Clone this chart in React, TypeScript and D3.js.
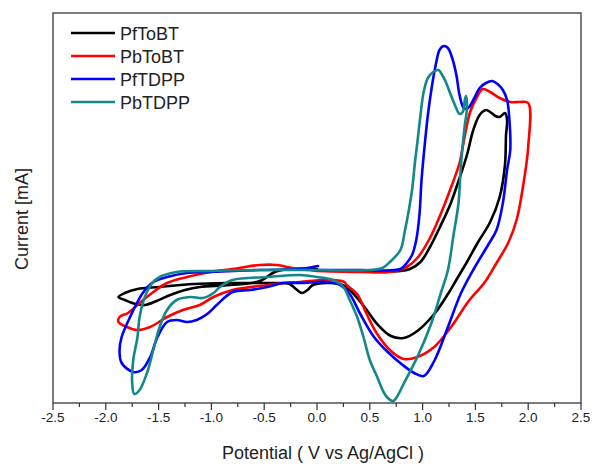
import React from "react";
import * as d3 from "d3";

const seriesNames = ["PfToBT", "PbToBT", "PfTDPP", "PbTDPP"];
const seriesColors = ["#000000", "#ff0000", "#0000ff", "#13878a"];

// [potential (V), current (mA)]
const pfToBT: [number, number][] = [
  [0, 0], [0.41, -0.01], [0.79, -0.01], [0.88, 0.01], [0.98, 0.08], [1.07, 0.23],
  [1.16, 0.42], [1.26, 0.65], [1.35, 0.92], [1.42, 1.15], [1.48, 1.4], [1.54, 1.55],
  [1.6, 1.6], [1.64, 1.58], [1.69, 1.54], [1.73, 1.53], [1.78, 1.57], [1.8, 1.5],
  [1.79, 1.35], [1.78, 1.05], [1.73, 0.73], [1.64, 0.48], [1.52, 0.27], [1.42, 0.08],
  [1.33, -0.08], [1.24, -0.24], [1.11, -0.44], [0.95, -0.61], [0.82, -0.68], [0.7, -0.66],
  [0.57, -0.54], [0.45, -0.37], [0.31, -0.2], [0.22, -0.14], [0.09, -0.13], [-0.04, -0.15],
  [-0.09, -0.2], [-0.14, -0.23], [-0.2, -0.19], [-0.26, -0.14], [-0.4, -0.13], [-0.54, -0.13],
  [-0.85, -0.13], [-1.17, -0.14], [-1.49, -0.17], [-1.7, -0.19], [-1.82, -0.23], [-1.88, -0.27],
  [-1.82, -0.3], [-1.72, -0.34], [-1.63, -0.35], [-1.52, -0.31], [-1.39, -0.25], [-1.25, -0.2],
  [-1.11, -0.17], [-0.82, -0.15], [-0.54, -0.11], [-0.4, -0.02], [-0.26, 0.01], [0, 0.01],
];

const pbToBT: [number, number][] = [
  [0, -0.01], [0.41, -0.02], [0.69, -0.02], [0.85, 0.03], [0.95, 0.12], [1.07, 0.32],
  [1.16, 0.53], [1.26, 0.8], [1.35, 1.07], [1.38, 1.23], [1.42, 1.45], [1.45, 1.58],
  [1.52, 1.74], [1.57, 1.81], [1.64, 1.78], [1.73, 1.72], [1.83, 1.68], [1.92, 1.68],
  [2.0, 1.67], [2.0, 1.23], [1.95, 0.83], [1.89, 0.5], [1.81, 0.27], [1.7, 0.07],
  [1.59, -0.12], [1.43, -0.32], [1.27, -0.57], [1.11, -0.77], [0.95, -0.87], [0.82, -0.89],
  [0.7, -0.81], [0.57, -0.64], [0.47, -0.44], [0.38, -0.24], [0.28, -0.15], [0.26, -0.12],
  [0.15, -0.1], [0.03, -0.1], [-0.16, -0.12], [-0.32, -0.13], [-0.47, -0.15], [-0.8, -0.2],
  [-0.98, -0.27], [-1.11, -0.35], [-1.27, -0.4], [-1.42, -0.47], [-1.58, -0.57], [-1.7, -0.6],
  [-1.8, -0.57], [-1.88, -0.52], [-1.87, -0.47], [-1.79, -0.43], [-1.68, -0.33], [-1.55, -0.22],
  [-1.42, -0.13], [-1.23, -0.07], [-1.01, -0.02], [-0.8, 0.01], [-0.54, 0.05], [-0.38, 0.05],
  [-0.23, 0.02], [-0.07, 0], [0, -0.01],
];

const pfTDPP: [number, number][] = [
  [0, 0], [0.41, 0], [0.79, 0.01], [0.85, 0.07], [0.9, 0.15], [0.94, 0.3],
  [0.97, 0.55], [0.99, 0.9], [1.02, 1.25], [1.05, 1.55], [1.09, 1.85], [1.13, 2.08],
  [1.16, 2.2], [1.2, 2.24], [1.24, 2.22], [1.28, 2.12], [1.32, 1.95], [1.35, 1.75],
  [1.39, 1.62], [1.43, 1.62], [1.49, 1.72], [1.54, 1.82], [1.6, 1.87], [1.66, 1.89],
  [1.71, 1.86], [1.76, 1.8], [1.8, 1.7], [1.82, 1.53], [1.83, 1.2], [1.8, 1.0],
  [1.76, 0.67], [1.7, 0.4], [1.62, 0.25], [1.49, 0.02], [1.36, -0.24], [1.24, -0.57],
  [1.11, -0.91], [1.01, -1.06], [0.92, -1.03], [0.8, -0.94], [0.66, -0.81], [0.54, -0.67],
  [0.41, -0.44], [0.31, -0.24], [0.22, -0.15], [0.09, -0.12], [-0.16, -0.13], [-0.32, -0.13],
  [-0.47, -0.17], [-0.63, -0.2], [-0.8, -0.22], [-0.95, -0.35], [-1.04, -0.44], [-1.14, -0.5],
  [-1.23, -0.52], [-1.33, -0.5], [-1.42, -0.52], [-1.51, -0.67], [-1.58, -0.87], [-1.66, -1.0],
  [-1.74, -1.02], [-1.85, -0.93], [-1.87, -0.8], [-1.85, -0.67], [-1.77, -0.47], [-1.65, -0.23],
  [-1.55, -0.12], [-1.42, -0.07], [-1.23, -0.03], [-1.01, -0.02], [-0.54, 0], [-0.16, 0.01],
  [-0.04, 0.03], [0.01, 0.04],
];

const pbTDPP: [number, number][] = [
  [0, 0], [0.5, 0], [0.62, 0.02], [0.69, 0.08], [0.79, 0.2], [0.83, 0.38],
  [0.87, 0.6], [0.9, 0.8], [0.93, 1.1], [0.95, 1.27], [0.98, 1.55], [1.01, 1.78],
  [1.05, 1.92], [1.1, 1.98], [1.15, 2.0], [1.18, 1.96], [1.22, 1.88], [1.26, 1.77],
  [1.31, 1.64], [1.35, 1.56], [1.38, 1.58], [1.4, 1.7], [1.41, 1.74], [1.42, 1.62],
  [1.4, 1.45], [1.38, 1.25], [1.36, 1.0], [1.34, 0.67], [1.29, 0.33], [1.24, 0],
  [1.17, -0.24], [1.08, -0.54], [0.95, -0.87], [0.82, -1.14], [0.75, -1.28], [0.72, -1.31],
  [0.67, -1.28], [0.63, -1.22], [0.57, -1.07], [0.5, -0.9], [0.44, -0.67], [0.38, -0.47],
  [0.31, -0.3], [0.25, -0.17], [0.15, -0.1], [0, -0.07], [-0.16, -0.05], [-0.47, -0.07],
  [-0.8, -0.1], [-0.92, -0.17], [-0.98, -0.23], [-1.08, -0.28], [-1.2, -0.27], [-1.33, -0.3],
  [-1.42, -0.4], [-1.49, -0.57], [-1.55, -0.8], [-1.61, -1.03], [-1.68, -1.2], [-1.73, -1.24],
  [-1.75, -1.13], [-1.74, -0.9], [-1.7, -0.67], [-1.68, -0.47], [-1.63, -0.27], [-1.56, -0.13],
  [-1.49, -0.07], [-1.33, -0.02], [-1.01, -0.01], [-0.54, 0], [0, 0],
];

const xTicks = [-2.5, -2.0, -1.5, -1.0, -0.5, 0, 0.5, 1.0, 1.5, 2.0, 2.5];
const xTickLabels = ["-2.5", "-2.0", "-1.5", "-1.0", "-0.5", "0.0", "0.5", "1.0", "1.5", "2.0", "2.5"];
const xMinorTicks = [-2.25, -1.75, -1.25, -0.75, -0.25, 0.25, 0.75, 1.25, 1.75, 2.25];

const width = 592;
const height = 464;
const margin = { top: 13, right: 11, bottom: 61, left: 53 };
const font = "'Liberation Sans', Arial, sans-serif";

export default function App() {
  const x = d3
    .scaleLinear()
    .domain([-2.5, 2.5])
    .range([margin.left, width - margin.right]);
  const y = d3
    .scaleLinear()
    .domain([-1.33, 2.57])
    .range([height - margin.bottom, margin.top]);

  const line = d3
    .line<[number, number]>()
    .x((d) => x(d[0]))
    .y((d) => y(d[1]))
    .curve(d3.curveCatmullRom.alpha(0.5));

  const allSeries = [pfToBT, pbToBT, pfTDPP, pbTDPP];
  const plotBottom = height - margin.bottom;

  return (
    <svg
      width={width}
      height={height}
      style={{ position: "absolute", left: 0, top: 0, background: "#fff" }}
      fontFamily={font}
    >
      <defs>
        <clipPath id="plot">
          <rect x={margin.left} y={margin.top} width={width - margin.left - margin.right} height={plotBottom - margin.top} />
        </clipPath>
      </defs>

      <g clipPath="url(#plot)">
        {allSeries.map((s, i) => (
          <path key={i} d={line(s) || ""} fill="none" stroke={seriesColors[i]} strokeWidth={2.6} strokeLinejoin="round" strokeLinecap="round" />
        ))}
      </g>

      {/* frame */}
      <rect
        x={margin.left}
        y={margin.top}
        width={width - margin.left - margin.right}
        height={plotBottom - margin.top}
        fill="none"
        stroke="#444"
        strokeWidth={1.4}
      />

      {/* bottom axis ticks */}
      <g stroke="#333" strokeWidth={1.2}>
        {xTicks.map((t) => (
          <line key={t} x1={x(t)} x2={x(t)} y1={plotBottom} y2={plotBottom + 7} />
        ))}
        {xMinorTicks.map((t) => (
          <line key={t} x1={x(t)} x2={x(t)} y1={plotBottom} y2={plotBottom + 4} />
        ))}
      </g>
      <g fontSize={13.5} fill="#222" textAnchor="middle">
        {xTicks.map((t, i) => (
          <text key={t} x={x(t)} y={plotBottom + 19}>
            {xTickLabels[i]}
          </text>
        ))}
      </g>

      <text x={323} y={459} fontSize={18} fill="#222" textAnchor="middle">
        Potential ( V vs Ag/AgCl )
      </text>
      <text transform="translate(28,219) rotate(-90)" fontSize={18} fill="#222" textAnchor="middle">
        Current [mA]
      </text>

      {/* legend */}
      <g>
        {seriesNames.map((name, i) => {
          const ly = 33 + i * 23;
          return (
            <g key={name}>
              <line x1={71} x2={115} y1={ly} y2={ly} stroke={seriesColors[i]} strokeWidth={2.6} />
              <text x={120} y={ly + 6.5} fontSize={18} fill="#222">
                {name}
              </text>
            </g>
          );
        })}
      </g>
    </svg>
  );
}
